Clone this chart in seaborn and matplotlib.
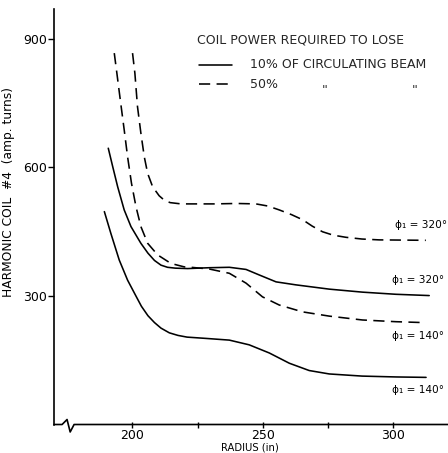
import numpy as np
import pandas as pd
import matplotlib
matplotlib.use("Agg")
import matplotlib.pyplot as plt
import seaborn as sns

# ---- data ----
solid_140_x = [189.3, 191.8, 195.0, 198.2, 201.4, 203.5, 206.0, 208.5, 211.0, 214.2, 217.5, 221.0, 228.2, 237.2, 244.8, 252.5, 260.2, 267.8, 275.5, 288.1, 301.1, 312.6]
solid_140_y = [497, 446, 384, 337, 300, 276, 254, 238, 225, 214, 208, 204, 201, 197, 186, 167, 143, 126, 118, 113, 111, 110]

solid_320_x = [190.8, 192.5, 194.4, 196.9, 199.5, 203.3, 206.0, 208.5, 211.0, 213.5, 216.5, 221.2, 229.5, 237.2, 243.6, 248.7, 255.1, 262.7, 275.5, 288.2, 301.0, 313.8]
solid_320_y = [645, 602, 555, 501, 462, 423, 400, 383, 372, 367, 365, 364, 366, 367, 362, 349, 333, 326, 316, 309, 304, 301]

dash_320_x = [200.1, 201.0, 202.0, 203.3, 204.6, 205.9, 207.8, 210.3, 212.2, 214.5, 218.7, 231.4, 240.0, 247.4, 252.0, 256.3, 261.0, 265.3, 269.0, 272.9, 277.0, 281.9, 288.0, 294.6, 312.5]
dash_320_y = [867, 820, 742, 680, 625, 586, 555, 534, 524, 518, 515, 515, 516, 515, 510, 501, 490, 478, 463, 450, 442, 437, 433, 431, 430]

dash_140_x = [193.1, 194.1, 195.4, 196.9, 198.2, 199.7, 201.4, 203.3, 205.9, 209.7, 214.8, 219.9, 222.5, 229.5, 237.2, 243.6, 249.9, 256.3, 265.2, 275.5, 288.2, 301.0, 311.2]
dash_140_y = [867, 820, 758, 688, 625, 563, 509, 462, 423, 396, 376, 368, 367, 363, 353, 330, 298, 279, 263, 253, 244, 240, 238]

y_ticks = [300, 600, 900]
x_ticks = [200, 250, 300]
x_minor = [225, 275]

curve_labels = ["ϕ₁ = 320°", "ϕ₁ = 320°", "ϕ₁ = 140°", "ϕ₁ = 140°"]
curve_label_pos = [(300.8, 466), (299.6, 337), (299.6, 207), (299.6, 80)]

legend_title = "COIL POWER REQUIRED TO LOSE"
legend_10 = "10% OF CIRCULATING BEAM"
legend_50 = "50%"
ditto = '"'

# ---- figure ----
sns.set_theme(style="white")
plt.rcParams["font.family"] = ["DejaVu Sans"]

fig = plt.figure(figsize=(4.48, 4.53), dpi=100)
W, H = 448, 453
ax_left, ax_right, ax_top, ax_bottom = 54, 448, 9, 424.5
ax = fig.add_axes([ax_left / W, (H - ax_bottom) / H, (ax_right - ax_left) / W, (ax_bottom - ax_top) / H])

lw = 1.15
dash = (7, 4)
sns.lineplot(x=solid_140_x, y=solid_140_y, ax=ax, color="black", lw=lw, sort=False)
sns.lineplot(x=solid_320_x, y=solid_320_y, ax=ax, color="black", lw=lw, sort=False)
sns.lineplot(x=dash_320_x, y=dash_320_y, ax=ax, color="black", lw=lw, sort=False)
ax.lines[-1].set_dashes(dash)
sns.lineplot(x=dash_140_x, y=dash_140_y, ax=ax, color="black", lw=lw, sort=False)
ax.lines[-1].set_dashes(dash)
for ln in ax.lines:
    ln.set_solid_joinstyle("round")
    ln.set_dash_joinstyle("round")

ax.set_xlim(170, 321)
ax.set_ylim(0, 970)

for s in ["top", "right", "bottom"]:
    ax.spines[s].set_visible(False)
ax.spines["left"].set_color("black")
ax.spines["left"].set_linewidth(1.2)

# bottom axis line with a break symbol
trans = ax.get_xaxis_transform()
bx = [170, 173.1, 175.0, 176.2, 177.7, 321]
by = [0, 0, 0.012, -0.018, 0.0, 0.0]
ax.plot(bx, by, color="black", lw=1.2, transform=trans, clip_on=False)

ax.set_yticks(y_ticks)
ax.set_xticks(x_ticks)
ax.set_xticks(x_minor, minor=True)
ax.tick_params(axis="y", direction="out", length=4, width=1, colors="black", labelsize=9, pad=1, left=True)
ax.tick_params(axis="x", which="both", direction="inout", length=5, width=1, colors="black", labelsize=9, pad=1, bottom=True)

ax.set_xlabel("RADIUS (in)", fontsize=7.2, labelpad=0, color="black")
ax.xaxis.set_label_coords(0.497, -0.043)
ax.set_ylabel("HARMONIC COIL  #4  (amp. turns)", fontsize=8.8, color="black")
ax.yaxis.set_label_coords(-0.098, 0.56)

for txt, (xx, yy) in zip(curve_labels, curve_label_pos):
    ax.text(xx, yy, txt, fontsize=7.6, va="center", ha="left", color="black")

def axp(px, py):
    return ((px - ax_left) / (ax_right - ax_left), (ax_bottom - py) / (ax_bottom - ax_top))

tf = ax.transAxes
x0, y0 = axp(197, 40)
ax.text(x0, y0, legend_title, transform=tf, fontsize=9, va="center", ha="left")
a, b = axp(199, 65)
c, d = axp(232, 65)
ax.plot([a, c], [b, d], color="black", lw=lw, transform=tf)
t, u = axp(250, 65)
ax.text(t, u, legend_10, transform=tf, fontsize=9, va="center", ha="left")
a, b = axp(199, 84)
c, d = axp(232, 84)
ln = ax.plot([a, c], [b, d], color="black", lw=lw, transform=tf)[0]
ln.set_dashes(dash)
t, u = axp(250, 84)
ax.text(t, u, legend_50, transform=tf, fontsize=9, va="center", ha="left")
for px in (325, 415):
    t, u = axp(px, 91)
    ax.text(t, u, ditto, transform=tf, fontsize=9, va="center", ha="center")

fig.savefig("out.png", dpi=100)
